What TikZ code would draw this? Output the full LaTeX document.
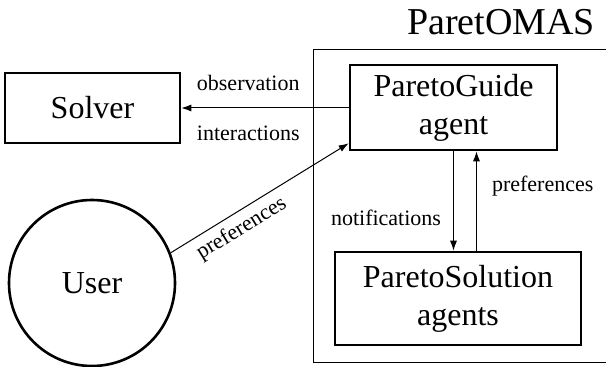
\documentclass[tikz,border=0pt]{standalone}
\usepackage{fontspec}
\setmainfont{Liberation Serif}
\usetikzlibrary{arrows.meta}

\begin{document}
\begin{tikzpicture}[x=1pt, y=1pt,
  >={Latex[length=10pt,width=7pt]},
  agentbox/.style={draw, line width=2.6pt, inner sep=0pt, align=center,
    font=\fontsize{32}{38}\selectfont},
  lbl/.style={inner sep=0pt, font=\fontsize{22}{26}\selectfont}]

\useasboundingbox (0,0) rectangle (606,367);

% the multi-agent system frame (its right side lies past the edge)
\node[minimum width=297pt, minimum height=312pt, inner sep=0pt] (mas) at (462.5,161) {};
\draw[line width=1.2pt] (mas.north east) -- (mas.north west) -- (mas.south west) -- (mas.south east);
\node[anchor=base, font=\fontsize{38}{44}\selectfont] (title) at (501,332) {ParetOMAS};

\node[agentbox, minimum width=175pt, minimum height=70pt] (solver) at (92.5,259) {Solver};
\node[agentbox, minimum width=207pt, minimum height=85pt] (guide) at (453.5,259.5) {ParetoGuide\\agent};
\node[agentbox, minimum width=246pt, minimum height=93pt] (solution) at (458,68.5) {ParetoSolution\\agents};
\node[agentbox, circle, minimum size=166pt] (user) at (92,84) {User};

\draw[->, line width=1pt] (guide.west |- solver.east) -- (solver.east)
  node[lbl, pos=.6, above=17pt] (obs) {observation}
  node[lbl, pos=.6, below=17pt] (inter) {interactions};

\draw[->, line width=1pt] (user.21) -- ([yshift=8pt]guide.south west)
  node[lbl, pos=.35, sloped, below=6pt] (upref) {preferences};

\begin{scope}[line width=1pt]
\draw[->] (guide.south) -- (guide.south |- solution.north)
  node[lbl, pos=.75, anchor=base east, xshift=-12pt] (notif) {notifications};
\draw[->] ([xshift=23pt]guide.south |- solution.north) -- ([xshift=23pt]guide.south)
  node[lbl, pos=.6, anchor=base west, xshift=15pt] (spref) {preferences};
\end{scope}

\end{tikzpicture}
\end{document}
